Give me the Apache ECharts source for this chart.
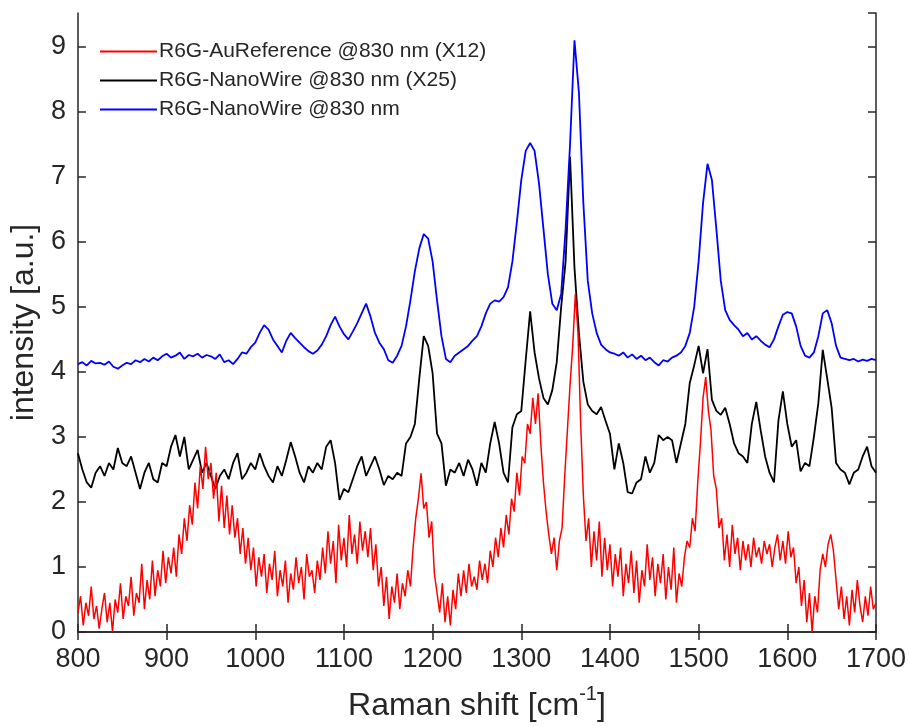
<!DOCTYPE html>
<html>
<head>
<meta charset="utf-8">
<script src="https://cdn.jsdelivr.net/npm/echarts@6/dist/echarts.min.js"></script>
<style>
  html, body { margin: 0; padding: 0; background: #fff; }
  #main { width: 909px; height: 727px; }
</style>
</head>
<body>
<div id="main"></div>
<script>
// Raman shift grid (cm^-1): blue/black sampled every 5, red every 3
const shiftStart = 800;
const shiftEnd = 1700;
const stepCoarse = 5;
const stepFine = 3;

const xTicks = [800, 900, 1000, 1100, 1200, 1300, 1400, 1500, 1600, 1700];
const yTicks = [0, 1, 2, 3, 4, 5, 6, 7, 8, 9];

const seriesNames = [
  "R6G-AuReference @830 nm (X12)",
  "R6G-NanoWire @830 nm (X25)",
  "R6G-NanoWire @830 nm"
];

// R6G-NanoWire @830 nm (blue), 800..1700 step 5
const nanoWire = [
  4.12, 4.15, 4.10, 4.17, 4.13, 4.14, 4.11, 4.16, 4.08, 4.05,
  4.10, 4.14, 4.12, 4.18, 4.15, 4.20, 4.16, 4.22, 4.18, 4.24,
  4.28, 4.22, 4.25, 4.30, 4.20, 4.26, 4.24, 4.28, 4.22, 4.26,
  4.24, 4.20, 4.27, 4.15, 4.18, 4.12, 4.20, 4.30, 4.28, 4.38,
  4.45, 4.60, 4.72, 4.65, 4.50, 4.40, 4.30, 4.48, 4.60, 4.52,
  4.45, 4.38, 4.32, 4.28, 4.33, 4.42, 4.55, 4.72, 4.85, 4.70,
  4.58, 4.50, 4.62, 4.75, 4.90, 5.05, 4.85, 4.60, 4.45, 4.35,
  4.18, 4.14, 4.25, 4.40, 4.70, 5.10, 5.55, 5.90, 6.12, 6.05,
  5.70, 5.10, 4.55, 4.20, 4.15, 4.25, 4.30, 4.35, 4.40, 4.48,
  4.55, 4.70, 4.90, 5.05, 5.10, 5.08, 5.15, 5.30, 5.70, 6.30,
  6.95, 7.40, 7.52, 7.40, 6.90, 6.20, 5.50, 5.05, 4.95, 5.20,
  6.20, 7.50, 9.10, 8.30, 6.60, 5.40, 4.90, 4.60, 4.42, 4.35,
  4.30, 4.28, 4.25, 4.30, 4.22, 4.27, 4.20, 4.25, 4.18, 4.22,
  4.15, 4.10, 4.18, 4.16, 4.22, 4.25, 4.30, 4.40, 4.60, 5.00,
  5.70, 6.60, 7.20, 6.95, 6.20, 5.40, 4.95, 4.80, 4.72, 4.65,
  4.55, 4.60, 4.50, 4.55, 4.48, 4.42, 4.38, 4.50, 4.70, 4.88,
  4.92, 4.90, 4.70, 4.40, 4.25, 4.22, 4.30, 4.55, 4.90, 4.95,
  4.75, 4.40, 4.22, 4.20, 4.18, 4.20, 4.16, 4.19, 4.17, 4.20,
  4.18
];

// R6G-NanoWire @830 nm (X25) (black), 800..1700 step 5
const nanoWireX25 = [
  2.75, 2.50, 2.30, 2.22, 2.45, 2.55, 2.40, 2.60, 2.50, 2.83,
  2.60, 2.55, 2.70, 2.45, 2.20, 2.45, 2.60, 2.35, 2.30, 2.60,
  2.55, 2.85, 3.03, 2.70, 3.00, 2.50, 2.65, 2.80, 2.45, 2.60,
  2.40, 2.20, 2.40, 2.50, 2.35, 2.60, 2.75, 2.35, 2.45, 2.60,
  2.50, 2.75, 2.55, 2.40, 2.30, 2.55, 2.40, 2.65, 2.92, 2.70,
  2.45, 2.30, 2.55, 2.45, 2.60, 2.50, 2.85, 2.95, 2.60, 2.03,
  2.20, 2.15, 2.35, 2.55, 2.70, 2.40, 2.55, 2.70, 2.50, 2.26,
  2.40, 2.35, 2.45, 2.40, 2.90, 3.00, 3.20, 3.90, 4.55, 4.40,
  3.98, 3.05, 2.90, 2.25, 2.50, 2.45, 2.60, 2.40, 2.65, 2.50,
  2.25, 2.60, 2.45, 2.90, 3.23, 2.90, 2.45, 2.30, 3.15, 3.35,
  3.40, 4.18, 4.93, 4.30, 3.90, 3.60, 3.50, 3.72, 4.15, 5.00,
  5.70, 7.31, 5.60, 4.60, 3.85, 3.50, 3.40, 3.35, 3.46, 3.25,
  3.05, 2.50, 2.90, 2.60, 2.15, 2.13, 2.30, 2.35, 2.70, 2.45,
  2.60, 3.03, 2.95, 3.00, 2.95, 2.60, 2.90, 3.20, 3.83, 4.10,
  4.40, 3.98, 4.35, 3.57, 3.40, 3.34, 3.45, 3.20, 2.90, 2.75,
  2.70, 2.60, 3.20, 3.54, 3.10, 2.70, 2.45, 2.30, 3.25, 3.70,
  3.20, 2.85, 2.95, 2.47, 2.60, 2.55, 3.00, 3.52, 4.34, 3.90,
  3.45, 2.60, 2.50, 2.45, 2.27, 2.45, 2.50, 2.70, 2.85, 2.55,
  2.45
];

// R6G-AuReference @830 nm (X12) (red), 800..1700 step 3
const auReference = [
  0.30, 0.55, 0.10, 0.45, 0.25, 0.70, 0.20, 0.40, 0.05, 0.35,
  0.60, 0.15, 0.45, 0.00, 0.50, 0.30, 0.75, 0.20, 0.55, 0.40,
  0.85, 0.25, 0.60, 0.45, 1.05, 0.35, 0.80, 0.50, 1.10, 0.55,
  0.95, 0.70, 1.25, 0.75, 1.15, 0.90, 1.30, 0.85, 1.50, 1.20,
  1.75, 1.40, 1.95, 1.65, 2.30, 1.90, 2.55, 2.20, 2.85, 2.35,
  2.60, 2.05, 2.45, 1.70, 2.25, 1.60, 2.10, 1.50, 1.95, 1.45,
  1.75, 1.20, 1.60, 1.05, 1.45, 0.95, 1.30, 0.70, 1.15, 0.85,
  1.20, 0.60, 1.05, 0.80, 1.25, 0.55, 0.95, 0.70, 1.10, 0.45,
  0.90, 0.65, 1.15, 0.75, 1.00, 0.50, 1.20, 0.85, 0.95, 0.60,
  1.10, 0.80, 1.30, 0.90, 1.55, 1.05, 1.40, 0.75, 1.65, 1.10,
  1.45, 1.00, 1.80, 1.20, 1.50, 1.05, 1.70, 1.25, 1.55, 1.15,
  1.60, 0.95, 1.35, 0.70, 1.00, 0.40, 0.85, 0.20, 0.70, 0.45,
  0.90, 0.35, 0.75, 0.55, 0.95, 0.70, 1.30, 1.75, 2.05, 2.44,
  1.90, 2.00, 1.45, 1.70, 0.90, 0.60, 0.30, 0.75, 0.15, 0.55,
  0.10, 0.65, 0.35, 0.90, 0.55, 0.95, 0.60, 1.05, 0.70, 0.85,
  0.65, 1.10, 0.80, 1.05, 0.75, 1.25, 1.00, 1.45, 1.15, 1.60,
  1.30, 1.80, 1.50, 2.05, 1.85, 2.45, 2.10, 2.70, 2.60, 3.20,
  3.05, 3.60, 3.20, 3.67, 2.90, 2.30, 1.85, 1.50, 1.20, 1.45,
  0.95, 1.40, 1.60, 2.40, 3.10, 3.80, 4.40, 5.20, 4.60, 3.20,
  2.10, 1.40, 1.75, 1.00, 1.55, 1.10, 1.70, 0.85, 1.45, 0.95,
  1.35, 0.70, 1.20, 0.85, 1.30, 0.55, 1.05, 0.75, 1.25, 0.60,
  1.10, 0.45, 0.95, 0.70, 1.35, 0.80, 1.15, 0.55, 1.05, 0.75,
  1.20, 0.50, 1.00, 0.65, 1.30, 0.45, 0.90, 0.70, 1.15, 1.40,
  1.30, 1.75, 1.55, 2.30, 2.90, 3.60, 3.92, 3.40, 3.10, 2.40,
  2.20, 1.60, 1.75, 1.10, 1.50, 1.00, 1.65, 1.20, 1.45, 0.95,
  1.40, 1.10, 1.35, 1.00, 1.45, 1.15, 1.30, 1.05, 1.40, 1.20,
  1.35, 1.00, 1.30, 1.50, 1.10, 1.40, 1.05, 1.55, 1.15, 1.30,
  0.75, 1.00, 0.40, 0.80, 0.15, 0.60, 0.00, 0.55, 0.30, 0.95,
  1.20, 1.00, 1.35, 1.50, 1.25, 0.80, 0.35, 0.70, 0.20, 0.55,
  0.10, 0.65, 0.30, 0.80, 0.40, 0.15, 0.55, 0.25, 0.70, 0.35,
  0.45
];

function pairUp(values, step) {
  return values.map((v, i) => [shiftStart + i * step, v]);
}

const font = "'Liberation Sans', Arial, Helvetica, sans-serif";
const ink = "#262626";

const axisCommon = {
  axisLine: { show: true, lineStyle: { color: ink, width: 1.5 } },
  axisTick: { show: true, inside: true, length: 8, lineStyle: { color: ink, width: 1.5 } },
  splitLine: { show: false }
};

const myChart = echarts.init(document.getElementById("main"));

const option = {
  animation: false,
  backgroundColor: "#fff",
  textStyle: { fontFamily: font },
  grid: { left: 77, right: 32, top: 13, bottom: 95 },
  legend: {
    data: seriesNames,
    orient: "vertical",
    left: 95,
    top: 36,
    icon: "rect",
    itemWidth: 57,
    itemHeight: 1.8,
    itemGap: 8,
    textStyle: { color: ink, fontSize: 21, fontFamily: font, padding: [0, 0, 0, -3] }
  },
  xAxis: [
    {
      type: "value",
      min: shiftStart,
      max: shiftEnd,
      interval: 100,
      name: "Raman shift [cm{sup|-1}]",
      nameLocation: "middle",
      nameGap: 52,
      nameTextStyle: {
        color: ink,
        fontSize: 32,
        fontFamily: font,
        rich: { sup: { fontSize: 20, verticalAlign: "top", color: ink, padding: [0, 0, 24, 0] } }
      },
      axisLabel: { color: ink, fontSize: 27, margin: 14, fontFamily: font,
        formatter: v => (xTicks.includes(v) ? String(v) : "") },
      ...axisCommon
    },
    {
      type: "value",
      position: "top",
      min: shiftStart,
      max: shiftEnd,
      interval: 100,
      axisLabel: { show: false },
      ...axisCommon
    }
  ],
  yAxis: [
    {
      type: "value",
      min: 0,
      max: 9.52,
      interval: 1,
      name: "intensity [a.u.]",
      nameLocation: "middle",
      nameGap: 36,
      nameTextStyle: { color: ink, fontSize: 32, fontFamily: font },
      axisLabel: { color: ink, fontSize: 27, margin: 12, fontFamily: font, showMaxLabel: false,
        formatter: v => (yTicks.includes(v) ? String(v) : "") },
      ...axisCommon
    },
    {
      type: "value",
      position: "right",
      min: 0,
      max: 9.52,
      interval: 1,
      axisLabel: { show: false },
      ...axisCommon
    }
  ],
  series: [
    {
      name: seriesNames[1],
      type: "line",
      data: pairUp(nanoWireX25, stepCoarse),
      showSymbol: false,
      lineStyle: { color: "#000000", width: 1.8 },
      itemStyle: { color: "#000000" },
      z: 2
    },
    {
      name: seriesNames[0],
      type: "line",
      data: pairUp(auReference, stepFine),
      showSymbol: false,
      lineStyle: { color: "#ff0000", width: 1.5 },
      itemStyle: { color: "#ff0000" },
      z: 3
    },
    {
      name: seriesNames[2],
      type: "line",
      data: pairUp(nanoWire, stepCoarse),
      showSymbol: false,
      lineStyle: { color: "#0000ff", width: 1.8 },
      itemStyle: { color: "#0000ff" },
      z: 4
    }
  ]
};

option && myChart.setOption(option);
</script>
</body>
</html>
